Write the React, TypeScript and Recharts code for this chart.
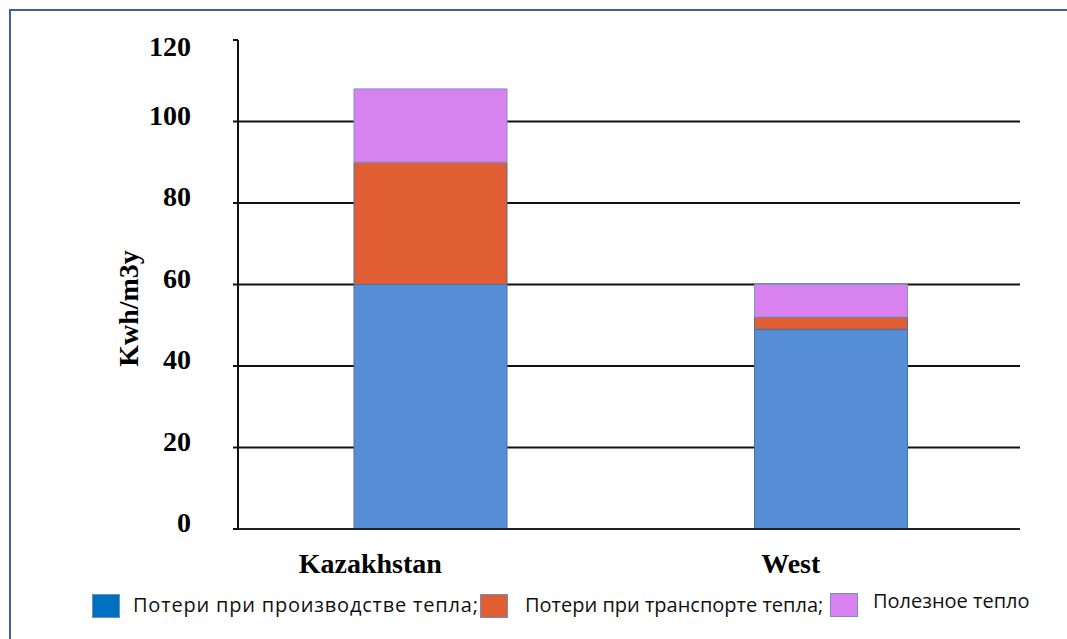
import React from "react";
import {
  Bar,
  BarChart,
  CartesianGrid,
  Legend,
  XAxis,
  YAxis,
} from "recharts";

const regions = ["Kazakhstan", "West"];
const productionLoss = [60, 49];
const transportLoss = [30, 3];
const usefulHeat = [18, 8];
const yTicks = [0, 20, 40, 60, 80, 100, 120];
const gridValues = [0, 20, 40, 60, 80, 100];

const seriesNames = [
  "Потери при производстве тепла;",
  "Потери при транспорте тепла;",
  "Полезное тепло",
];
const barColors = ["#558ED5", "#E15D33", "#D782EF"];
const legendColors = ["#0070C0", "#E35D32", "#D782F0"];

const data = regions.map((name, i) => ({
  name,
  production: productionLoss[i],
  transport: transportLoss[i],
  useful: usefulHeat[i],
}));

const serif = "'Liberation Serif', 'Times New Roman', serif";
const sans = "'Open Sans', 'Noto Sans', sans-serif";

// labels in the source sit left of the bar centres
const xShift = [-60, -40];

function XTick(props: any) {
  const { x, y, payload, index } = props;
  return (
    <text
      x={x + (xShift[index] ?? 0)}
      y={y + 44}
      textAnchor="middle"
      fontFamily={serif}
      fontWeight="bold"
      fontSize={28}
      fill="#000"
    >
      {payload.value}
    </text>
  );
}

function YTick(props: any) {
  const { x, y, payload } = props;
  // the top label sits below the axis end in the source
  const dy = payload.value === 120 ? 16 : 3;
  return (
    <text
      x={x}
      y={y + dy}
      textAnchor="end"
      fontFamily={serif}
      fontWeight="bold"
      fontSize={28}
      fill="#000"
    >
      {payload.value}
    </text>
  );
}

function YTitle(props: any) {
  const { viewBox } = props;
  const cx = viewBox.x + 128;
  const cy = viewBox.y + viewBox.height / 2 + 24;
  return (
    <text
      x={cx}
      y={cy}
      transform={`rotate(-90, ${cx}, ${cy})`}
      textAnchor="middle"
      dominantBaseline="central"
      fontFamily={serif}
      fontWeight="bold"
      fontSize={28}
      fill="#000"
    >
      Kwh/m3y
    </text>
  );
}

const legendPos = [
  { box: 92, text: 133, dy: 0, ls: 0.8 },
  { box: 480, text: 525, dy: 0, ls: 0 },
  { box: 830, text: 873, dy: -4, ls: 0 },
];

function LegendBox() {
  return (
    <div style={{ position: "relative", width: 1067, height: 40 }}>
      {seriesNames.map((n, i) => (
        <React.Fragment key={n}>
          <div
            style={{
              position: "absolute",
              left: legendPos[i].box,
              top: 9 + (i === 2 ? -1 : 0),
              width: 28,
              height: 24,
              background: legendColors[i],
              boxSizing: "border-box",
              border: "1px solid #6f8fbf",
            }}
          />
          <div
            style={{
              position: "absolute",
              left: legendPos[i].text,
              top: 7 + legendPos[i].dy,
              fontFamily: sans,
              fontSize: 20,
              letterSpacing: legendPos[i].ls,
              lineHeight: "26px",
              color: "#111",
              whiteSpace: "nowrap",
            }}
          >
            {n}
          </div>
        </React.Fragment>
      ))}
    </div>
  );
}

export default function App() {
  return (
    <div
      style={{
        position: "absolute",
        left: 0,
        top: 0,
        width: 1067,
        height: 639,
        overflow: "hidden",
        background: "#fff",
      }}
    >
      <div
        style={{
          position: "absolute",
          left: 9,
          top: 9,
          width: 1080,
          height: 660,
          borderTop: "2px solid #3d6592",
          borderLeft: "2px solid #3d6592",
        }}
      />
      <div style={{ position: "absolute", left: 0, top: 0 }}>
        <BarChart
          width={1067}
          height={639}
          data={data}
          margin={{ top: 40, right: 47, left: 0, bottom: 20 }}
        >
          <CartesianGrid
            vertical={false}
            horizontalValues={gridValues}
            stroke="#111"
            strokeWidth={2}
          />
          <XAxis
            dataKey="name"
            height={50}
            padding={{ left: -8, right: -11 }}
            axisLine={{ stroke: "#222", strokeWidth: 2 }}
            tickLine={false}
            tickSize={0}
            tickMargin={0}
            tick={<XTick />}
          />
          <YAxis
            width={238}
            domain={[0, 120]}
            ticks={yTicks}
            interval={0}
            axisLine={{ stroke: "#111", strokeWidth: 2 }}
            tickLine={{ stroke: "#111", strokeWidth: 2 }}
            tickSize={5}
            tickMargin={42}
            tick={<YTick />}
            label={<YTitle />}
          />
          <Legend
            verticalAlign="bottom"
            content={<LegendBox />}
            wrapperStyle={{ left: 0, top: 585, bottom: "auto", width: 1067 }}
          />
          <Bar
            dataKey="production"
            name={seriesNames[0]}
            stackId="a"
            fill={barColors[0]}
            stroke="#4f6f9c"
            strokeWidth={1}
            barSize={153}
            isAnimationActive={false}
          />
          <Bar
            dataKey="transport"
            name={seriesNames[1]}
            stackId="a"
            fill={barColors[1]}
            stroke="#4f6f9c"
            strokeWidth={1}
            barSize={153}
            isAnimationActive={false}
          />
          <Bar
            dataKey="useful"
            name={seriesNames[2]}
            stackId="a"
            fill={barColors[2]}
            stroke="#7f8fc8"
            strokeWidth={1}
            barSize={153}
            isAnimationActive={false}
          />
        </BarChart>
      </div>
    </div>
  );
}
